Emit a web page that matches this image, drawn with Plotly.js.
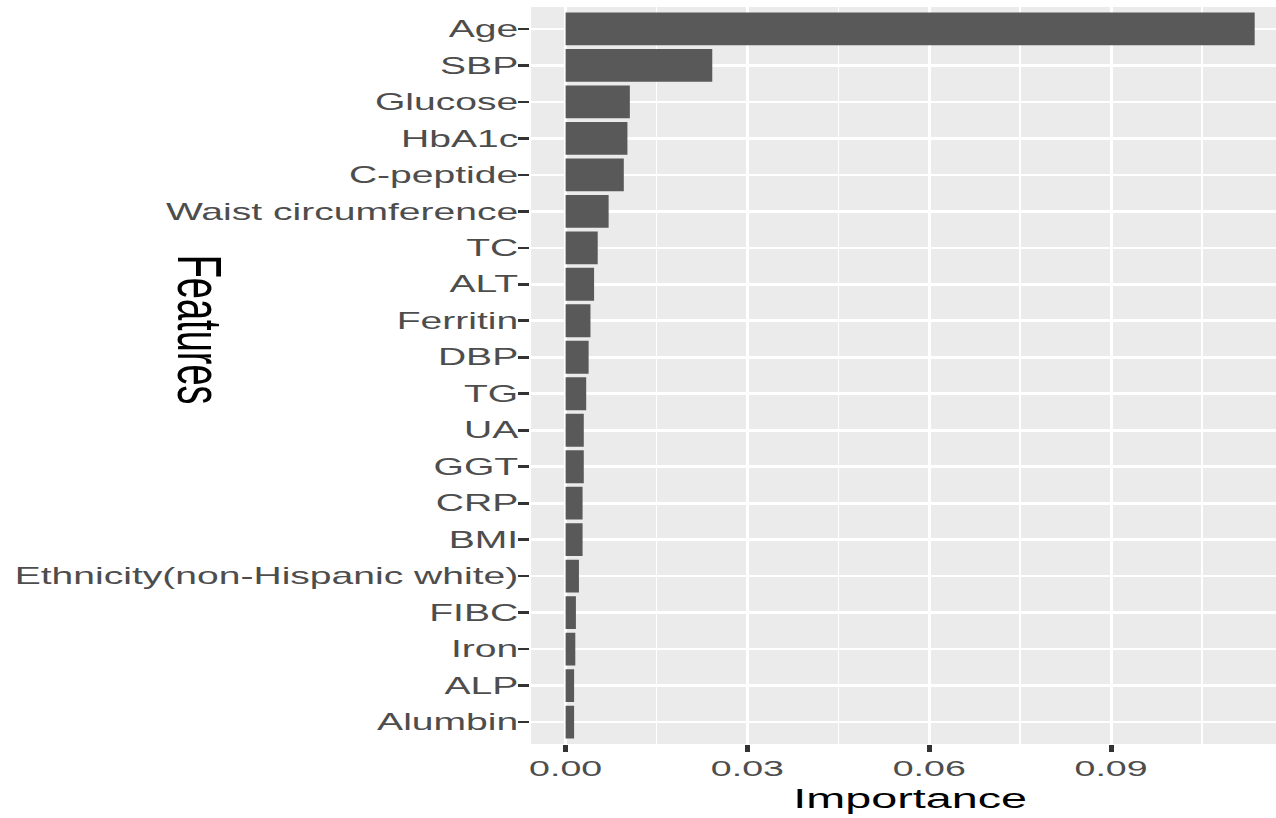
<!DOCTYPE html>
<html>
<head>
<meta charset="utf-8">
<script src="https://cdn.plot.ly/plotly-3.0.1.min.js"></script>
<style>
html, body { margin:0; padding:0; overflow:hidden; background:#fff; width:1276px; height:818px; }
#plot { width:772px; height:818px; transform: scaleX(1.67); transform-origin: 0 0; }
</style>
</head>
<body>
<div id="plot"></div>
<script>
// Features from most to least important
const features = ["Age","SBP","Glucose","HbA1c","C-peptide","Waist circumference","TC","ALT","Ferritin","DBP","TG","UA","GGT","CRP","BMI","Ethnicity(non-Hispanic white)","FIBC","Iron","ALP","Alumbin"];
const importance = [0.1137,0.0242,0.0106,0.0102,0.0096,0.0071,0.0053,0.0047,0.0041,0.0038,0.0034,0.0030,0.0030,0.0028,0.0028,0.0022,0.0017,0.0016,0.0014,0.0014];
const xTicks = [0.00,0.03,0.06,0.09];
const xTickLabels = ["0.00","0.03","0.06","0.09"];

const order = features.slice().reverse();
const FONT = "Liberation Sans, Arial, Helvetica, sans-serif";

const trace = {
  type: "bar",
  orientation: "h",
  x: importance,
  y: features,
  width: 0.9,
  marker: { color: "#595959", line: { width: 0 } },
  hoverinfo: "x+y"
};

const layout = {
  width: 772,
  height: 818,
  margin: { l: 318, r: 0, t: 7, b: 74, pad: 0 },
  paper_bgcolor: "#ffffff",
  plot_bgcolor: "#EBEBEB",
  showlegend: false,
  bargap: 0.1,
  xaxis: {
    range: [-0.0057, 0.1194],
    tickvals: xTicks,
    ticktext: xTickLabels,
    ticks: "outside",
    ticklen: 7,
    tickwidth: 3,
    tickcolor: "#333333",
    ticklabelstandoff: -3,
    tickfont: { family: FONT, size: 22.5, color: "#4D4D4D" },
    showgrid: true,
    gridcolor: "#ffffff",
    gridwidth: 1.8,
    minor: { tickvals: [0.015,0.045,0.075,0.105], showgrid: true, gridcolor: "#ffffff", gridwidth: 1.0, ticks: "" },
    zeroline: false,
    showline: false,
    fixedrange: true
  },
  yaxis: {
    type: "category",
    categoryorder: "array",
    categoryarray: order,
    range: [-0.6, order.length - 0.4],
    ticks: "outside",
    ticklen: 7,
    tickwidth: 2.6,
    tickcolor: "#333333",
    ticklabelstandoff: -5,
    tickfont: { family: FONT, size: 23.4, color: "#4D4D4D" },
    showgrid: true,
    gridcolor: "#ffffff",
    gridwidth: 2.6,
    zeroline: false,
    showline: false,
    fixedrange: true
  },
  annotations: [
    { text: "Importance", xref: "paper", yref: "paper", x: 0.5, y: -0.0735, xanchor: "center", yanchor: "middle", showarrow: false, font: { family: FONT, size: 28, color: "#000000" } },
    { text: "Features", xref: "paper", yref: "paper", x: -0.4375, y: 0.5617, xanchor: "center", yanchor: "middle", textangle: 90, showarrow: false, font: { family: FONT, size: 38, color: "#000000" } }
  ]
};

Plotly.newPlot("plot", [trace], layout, { displayModeBar: false, staticPlot: true });
</script>
</body>
</html>
